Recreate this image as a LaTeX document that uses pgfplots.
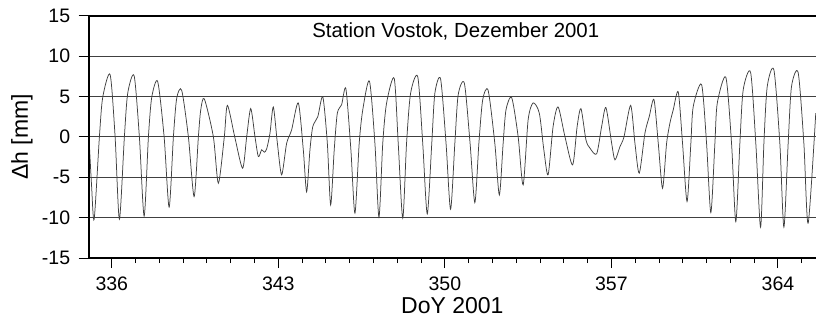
\documentclass[border=0pt]{standalone}
\usepackage{fontspec}
\setmainfont{Liberation Sans}
\usepackage{pgfplots}
\pgfplotsset{compat=1.18}
\begin{document}
\begin{tikzpicture}
\begin{axis}[
  name=ax, at={(0,0)}, anchor=south west,
  scale only axis, width=727.3bp, height=242.3bp,
  xmin=335.03, xmax=365.6, ymin=-15, ymax=15,
  xtick={336,343,350,357,364},
  minor xtick={335,...,365},
  ytick={-15,-10,...,15},
  tick pos=left, tick align=outside,
  major tick length=10bp, minor tick length=5bp,
  every tick/.style={black, line width=0.9bp},
  ymajorgrids, grid style={black!75, line width=0.8bp},
  axis line style={draw=none},
  /pgf/number format/assume math mode=true,
  /pgf/number format/1000 sep={},
  tick label style={font=\fontsize{19.5bp}{23bp}\selectfont},
  xticklabel style={yshift=-5bp},
  yticklabel style={xshift=-5bp},
  label style={font=\fontsize{23bp}{27bp}\selectfont},
  xlabel={DoY 2001},
  xlabel style={at={(axis description cs:0.5,0)}, anchor=base, yshift=-55.3bp},
  ylabel={Δh [mm]},
  ylabel style={at={(axis description cs:-0.0917,0.5)}, anchor=center, rotate=0},
  title={Station Vostok, Dezember 2001},
  title style={font=\fontsize{20.4bp}{24bp}\selectfont, at={(axis description cs:0.5047,1)}, anchor=base, yshift=-27.6bp},
]
\addplot[black!75, line width=0.75bp, smooth, tension=0.45] table {
335.05 -0.5
335.15 -6.0
335.26 -10.2
335.48 0.0
335.62 4.9
335.93 7.7
336.14 0.0
336.32 -10.2
336.53 0.0
336.67 5.4
336.94 7.55
337.16 0.0
337.36 -9.8
337.54 0.0
337.68 4.9
337.93 6.85
338.20 0.0
338.41 -8.7
338.59 0.0
338.73 4.8
338.94 5.75
339.22 0.0
339.46 -7.4
339.64 0.0
339.74 3.35
339.89 4.7
340.27 0.0
340.48 -5.74
340.73 0.0
340.86 3.9
341.18 -0.16
341.50 -3.88
341.67 0.0
341.84 3.5
342.02 0.0
342.16 -2.44
342.30 -1.6
342.41 -1.9
342.51 -1.5
342.65 0.45
342.79 3.7
342.96 -0.78
343.14 -4.7
343.35 -0.8
343.56 0.87
343.84 4.2
344.05 -1.6
344.19 -6.8
344.33 -1.6
344.45 1.28
344.66 2.5
344.87 4.95
345.06 -0.78
345.20 -8.43
345.35 -1.6
345.48 2.93
345.66 3.97
345.84 5.95
346.05 -1.6
346.22 -9.46
346.40 -0.78
346.55 3.35
346.83 6.9
347.06 -0.8
347.23 -9.95
347.39 -0.8
347.55 4.17
347.87 7.25
348.04 -0.8
348.23 -10.08
348.39 -0.8
348.56 5.4
348.86 7.45
349.07 -0.8
349.26 -9.54
349.45 -0.8
349.58 5.4
349.82 7.17
350.05 -0.8
350.24 -8.96
350.42 -0.8
350.56 5.2
350.82 6.63
351.06 -0.8
351.26 -8.14
351.43 -0.8
351.59 4.58
351.82 5.75
352.10 -0.8
352.29 -7.19
352.45 -0.8
352.57 3.35
352.81 4.85
353.08 0.04
353.29 -5.95
353.50 2.1
353.71 4.2
353.97 2.93
354.16 -1.6
354.34 -4.7
354.55 1.28
354.76 3.7
355.05 0.0
355.37 -3.47
355.56 1.28
355.72 3.5
355.93 -0.37
356.10 -1.4
356.38 -2.1
356.59 1.28
356.77 3.62
357.01 -0.78
357.15 -2.85
357.36 -1.2
357.53 0.0
357.81 3.9
357.99 -0.8
358.17 -4.5
358.41 0.46
358.59 2.5
358.79 4.6
358.97 -0.8
359.15 -6.36
359.32 -0.8
359.46 1.7
359.60 3.35
359.81 5.55
359.99 -0.8
360.18 -8.01
360.34 -0.8
360.44 3.76
360.79 6.47
361.00 -0.8
361.18 -9.38
361.35 -0.8
361.45 4.17
361.81 7.37
362.05 -0.8
362.23 -10.5
362.40 -0.8
362.54 5.82
362.85 7.99
363.07 -0.8
363.27 -11.19
363.41 -0.8
363.55 6.23
363.83 8.29
364.08 -0.8
364.25 -11.19
364.43 -0.8
364.57 6.23
364.85 7.95
365.09 -0.8
365.27 -10.7
365.59 2.93
};
\end{axis}
\draw[line width=1.8bp, black] (ax.north east) -- (ax.north west) -- (ax.south west) -- (ax.south east);
\pgfresetboundingbox
\path ([xshift=-88.7bp,yshift=-70bp]ax.south west) rectangle ([yshift=15.7bp]ax.north east);
\end{tikzpicture}
\end{document}
